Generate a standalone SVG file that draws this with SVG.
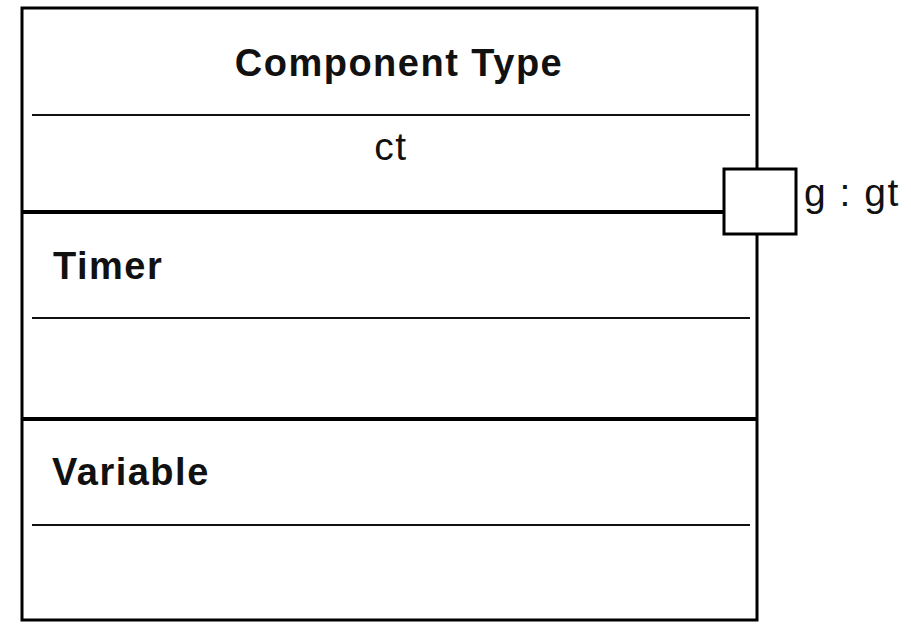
<svg xmlns="http://www.w3.org/2000/svg" width="911" height="625" viewBox="0 0 911 625">
<style>
.frame{fill:#fff;stroke:#000;stroke-width:3}
.thin{stroke:#111;stroke-width:2}
.thick{stroke:#000;stroke-width:4}
.b{font-family:"Liberation Sans",Arial,sans-serif;font-weight:bold;font-size:38px;letter-spacing:1.5px;fill:#111}
.r{font-family:"Liberation Sans",Arial,sans-serif;font-size:39px;letter-spacing:1.5px;fill:#111}
</style>
<rect width="911" height="625" fill="#fff"/>
<g id="component">
<rect class="frame" x="22" y="8" width="735" height="612"/>
<text class="b" x="399" y="76" text-anchor="middle">Component Type</text>
<line class="thin" x1="32" y1="115" x2="750" y2="115"/>
<text class="r" x="391" y="160" text-anchor="middle">ct</text>
<line class="thick" x1="22" y1="212" x2="724" y2="212"/>
<text class="b" x="53" y="279">Timer</text>
<line class="thin" x1="32" y1="318" x2="750" y2="318"/>
<line class="thick" x1="22" y1="419" x2="757" y2="419"/>
<text class="b" x="52" y="485">Variable</text>
<line class="thin" x1="32" y1="525" x2="750" y2="525"/>
</g>
<g id="port">
<rect class="frame" x="724" y="169" width="72" height="65"/>
<text class="r" x="804" y="206">g : gt</text>
</g>
</svg>
